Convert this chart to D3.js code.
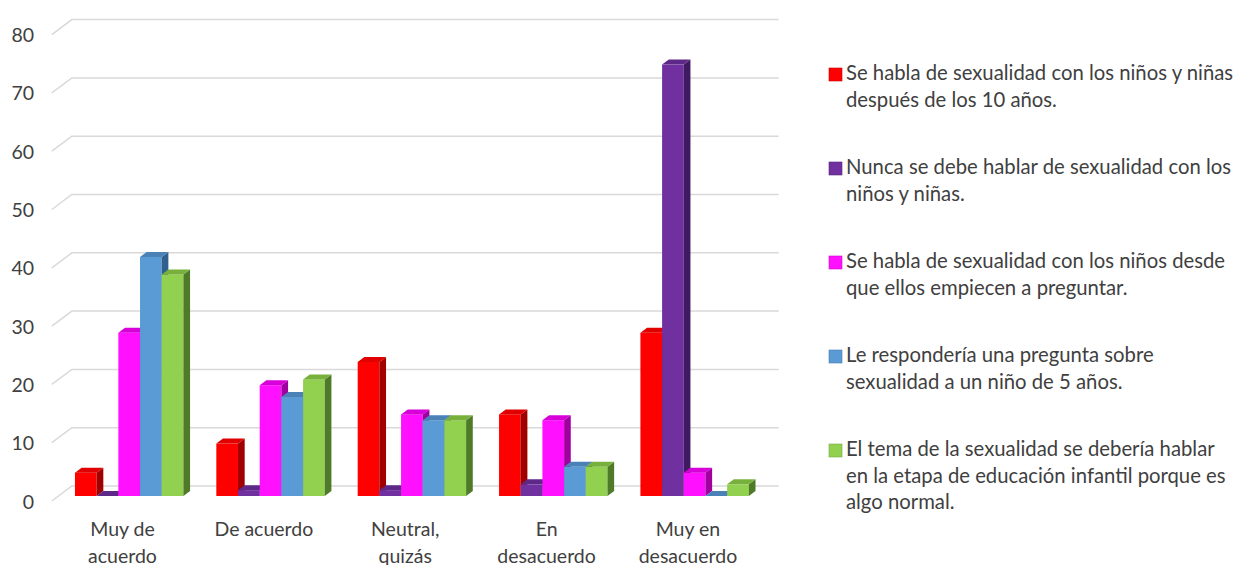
<!DOCTYPE html>
<html>
<head>
<meta charset="utf-8">
<script src="https://cdn.jsdelivr.net/npm/d3@7"></script>
<style>
  html, body { margin: 0; padding: 0; background: #ffffff; }
  svg { display: block; }
  text { font-family: Lato, "Open Sans", sans-serif; fill: #404040; }
</style>
</head>
<body>
<svg id="chart" width="1237" height="565"></svg>
<script>
// Response categories (x axis)
const categories = [
  ["Muy de", "acuerdo"],
  ["De acuerdo"],
  ["Neutral,", "quizás"],
  ["En", "desacuerdo"],
  ["Muy en", "desacuerdo"]
];

// Statements (series) with their legend text, split into lines
const seriesNames = [
  ["Se habla de sexualidad con los niños y niñas", "después de los 10 años."],
  ["Nunca se debe hablar de sexualidad con los", "niños y niñas."],
  ["Se habla de sexualidad con los niños desde", "que ellos empiecen a preguntar."],
  ["Le respondería una pregunta sobre", "sexualidad a un niño de 5 años."],
  ["El tema de la sexualidad se debería hablar", "en la etapa de educación infantil porque es", "algo normal."]
];

// Values per statement, one per category
const seriesValues = [
  [4, 9, 23, 14, 28],
  [0, 1, 1, 2, 74],
  [28, 19, 14, 13, 4],
  [41, 17, 13, 5, 0],
  [38, 20, 13, 5, 2]
];

const yTicks = [0, 10, 20, 30, 40, 50, 60, 70, 80];

// Face colours for each series: front, top, side
const palette = [
  { front: "#ff0000", top: "#e00000", side: "#a00000" },
  { front: "#7030a0", top: "#5e2888", side: "#3f1a60" },
  { front: "#ff10ff", top: "#d800d8", side: "#a000a0" },
  { front: "#5b9bd5", top: "#4a82b8", side: "#2f5f8c" },
  { front: "#92d050", top: "#78b03c", side: "#4f7a28" }
];

const svg = d3.select("#chart");

// 3D depth step (one third of the floor depth), bars occupy the middle third
const ddx = 6.67, ddy = 5;

const y = d3.scaleLinear().domain([0, 80]).range([496, 496 - 80 * 5.83]);

const x0 = d3.scaleBand()
  .domain(d3.range(categories.length))
  .range([58.5, 765.3])
  .paddingInner(0.233)
  .paddingOuter(0.1165);

const x1 = d3.scaleBand()
  .domain(d3.range(seriesValues.length))
  .range([0, x0.bandwidth()]);

// Back-wall gridlines with the short diagonal on the left side wall
const grid = svg.append("g").attr("class", "grid");
yTicks.forEach(t => {
  const yb = y(t) - 2 * ddy;
  const xl = x0.range()[0] + 2 * ddx;
  const xr = x0.range()[1] + 2 * ddx;
  grid.append("path")
    .attr("d", `M${x0.range()[0] - ddx},${y(t) + ddy}L${xl},${yb}L${xr},${yb}`)
    .attr("fill", "none")
    .attr("stroke", "#d9d9d9")
    .attr("stroke-width", 1.5);
});

// Value axis labels on the front plane
svg.append("g").attr("class", "y-labels")
  .selectAll("text")
  .data(yTicks)
  .join("text")
  .attr("x", 34)
  .attr("y", d => y(d) + ddy)
  .attr("text-anchor", "end")
  .attr("dominant-baseline", "central")
  .style("font-size", "19.5px")
  .text(d => d);

// Bars: front, top and side faces, drawn left to right
const bars = svg.append("g").attr("class", "bars");
categories.forEach((c, ci) => {
  seriesValues.forEach((vals, si) => {
    const v = vals[ci];
    const xa = x0(ci) + x1(si);
    const w = x1.bandwidth();
    const yt = y(v), yb = y(0);
    const col = palette[si];
    const g = bars.append("g");
    g.append("rect")
      .attr("x", xa).attr("y", yt)
      .attr("width", w).attr("height", yb - yt)
      .attr("fill", col.front);
    g.append("path")
      .attr("d", `M${xa + w},${yt}L${xa + w + ddx},${yt - ddy}L${xa + w + ddx},${yb - ddy}L${xa + w},${yb}Z`)
      .attr("fill", col.side);
    g.append("path")
      .attr("d", `M${xa},${yt}L${xa + ddx},${yt - ddy}L${xa + w + ddx},${yt - ddy}L${xa + w},${yt}Z`)
      .attr("fill", col.top);
  });
});

// Category labels on the front edge of the floor
const cat = svg.append("g").attr("class", "x-labels");
categories.forEach((lines, ci) => {
  const cx = x0(ci) + x0.bandwidth() / 2 - ddx;
  const t = cat.append("text")
    .attr("text-anchor", "middle")
    .style("font-size", "19.5px");
  lines.forEach((ln, li) => {
    t.append("tspan")
      .attr("x", cx)
      .attr("y", 528 + li * 27)
      .attr("dominant-baseline", "central")
      .text(ln);
  });
});

// Legend
const legend = svg.append("g").attr("class", "legend");
seriesNames.forEach((lines, si) => {
  const top = 72 + si * 94;
  legend.append("rect")
    .attr("x", 829).attr("y", top - 4)
    .attr("width", 13).attr("height", 13)
    .attr("fill", palette[si].front)
    .attr("stroke", d3.color(palette[si].front).darker(0.6))
    .attr("stroke-width", 0.6);
  const t = legend.append("text").style("font-size", "20.3px");
  lines.forEach((ln, li) => {
    t.append("tspan")
      .attr("x", 846)
      .attr("y", top + li * 26.7)
      .attr("dominant-baseline", "central")
      .text(ln);
  });
});
</script>
</body>
</html>
